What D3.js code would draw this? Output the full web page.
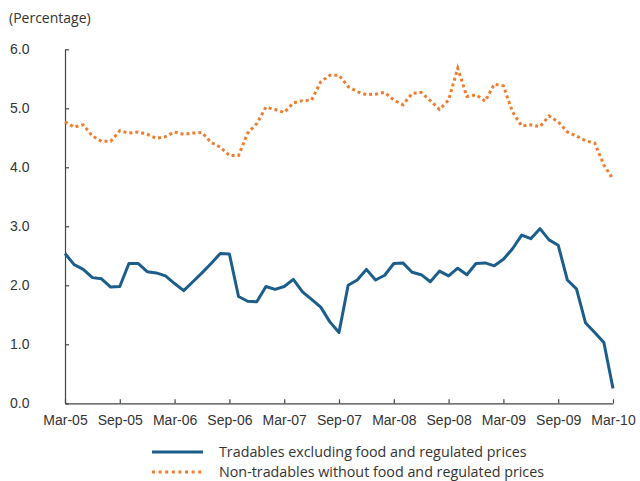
<!DOCTYPE html>
<html>
<head>
<meta charset="utf-8">
<script src="https://cdn.jsdelivr.net/npm/d3@7"></script>
<style>
  body { margin: 0; background: #fff; }
  svg { display: block; font-family: "Open Sans", sans-serif; }
</style>
</head>
<body>
<script>
// monthly, Mar-05 .. Mar-10
const tickLabels = ["Mar-05", "Sep-05", "Mar-06", "Sep-06", "Mar-07", "Sep-07",
                    "Mar-08", "Sep-08", "Mar-09", "Sep-09", "Mar-10"];

const tradables = [
  2.54, 2.35, 2.27, 2.13, 2.11, 1.97, 1.98, 2.37, 2.37, 2.23,
  2.21, 2.16, 2.03, 1.91, 2.06, 2.21, 2.37, 2.54, 2.53, 1.81,
  1.73, 1.72, 1.98, 1.93, 1.98, 2.10, 1.89, 1.76, 1.63, 1.38,
  1.20, 2.00, 2.09, 2.27, 2.09, 2.17, 2.37, 2.38, 2.22, 2.18,
  2.06, 2.24, 2.16, 2.29, 2.18, 2.37, 2.38, 2.33, 2.44, 2.62,
  2.85, 2.79, 2.96, 2.77, 2.68, 2.09, 1.94, 1.36, 1.20, 1.03,
  0.25
];

const nonTradables = [
  4.77, 4.68, 4.72, 4.53, 4.44, 4.44, 4.62, 4.58, 4.60, 4.56,
  4.49, 4.52, 4.60, 4.56, 4.58, 4.59, 4.42, 4.34, 4.20, 4.20,
  4.58, 4.74, 5.02, 4.98, 4.93, 5.09, 5.13, 5.14, 5.45, 5.56,
  5.56, 5.37, 5.28, 5.23, 5.24, 5.27, 5.14, 5.06, 5.25, 5.27,
  5.13, 4.98, 5.14, 5.68, 5.20, 5.23, 5.12, 5.41, 5.38, 4.94,
  4.70, 4.72, 4.69, 4.87, 4.77, 4.60, 4.53, 4.45, 4.41, 4.04,
  3.80
];

const seriesNames = ["Tradables excluding food and regulated prices",
                     "Non-tradables without food and regulated prices"];

const draw = () => {
  const width = 640, height = 481;
  const colors = ["#1b5e8c", "#ef7d2e"];
  const fontSize = 14;

  const svg = d3.select('body')
    .append('svg')
    .attr('width', width)
    .attr('height', height);

  const x = d3.scaleLinear().domain([0, tradables.length - 1]).range([65, 613]);
  const y = d3.scaleLinear().domain([0, 6]).range([403.3, 49.3]);

  // y axis, ticks pointing inside
  const yAxis = svg.append('g')
    .attr('transform', `translate(${x.range()[0]},0)`)
    .call(d3.axisLeft(y).tickValues([0, 1, 2, 3, 4, 5, 6]).tickSizeInner(-4).tickSizeOuter(0)
      .tickFormat(d3.format('.1f')));
  yAxis.selectAll('text').attr('x', -55).attr('text-anchor', 'start')
    .attr('font-size', fontSize).attr('fill', '#333');

  // x axis
  const xAxis = svg.append('g')
    .attr('transform', `translate(0,${y(0)})`)
    .call(d3.axisBottom(x).tickValues(d3.range(0, 61, 6)).tickSizeInner(-4).tickSizeOuter(0)
      .tickFormat((d, i) => tickLabels[i]));
  xAxis.selectAll('text').attr('y', 12).attr('font-size', fontSize).attr('fill', '#333');

  svg.selectAll('.domain, .tick line').attr('stroke', '#444').attr('stroke-width', 1.2);

  svg.append('text')
    .attr('x', 9).attr('y', 23)
    .attr('font-size', fontSize).attr('fill', '#333')
    .text('(Percentage)');

  const line = d3.line()
    .x((d, i) => x(i))
    .y(d => y(d));

  svg.append('path')
    .attr('d', line(nonTradables))
    .attr('fill', 'none')
    .attr('stroke', colors[1])
    .attr('stroke-width', 3)
    .attr('stroke-dasharray', '3,3');

  svg.append('path')
    .attr('d', line(tradables))
    .attr('fill', 'none')
    .attr('stroke', colors[0])
    .attr('stroke-width', 3)
    .attr('stroke-linejoin', 'round');

  // legend
  const legend = svg.append('g');
  seriesNames.forEach((name, i) => {
    const ly = 452 + i * 20;
    legend.append('line')
      .attr('x1', 152).attr('x2', 203)
      .attr('y1', ly).attr('y2', ly)
      .attr('stroke', colors[i])
      .attr('stroke-width', 3)
      .attr('stroke-dasharray', i === 1 ? '3,3.6' : null);
    legend.append('text')
      .attr('x', 219).attr('y', ly)
      .attr('dy', '0.35em')
      .attr('font-size', fontSize + 0.3).attr('fill', '#333')
      .text(name);
  });
};

draw();
</script>
</body>
</html>
